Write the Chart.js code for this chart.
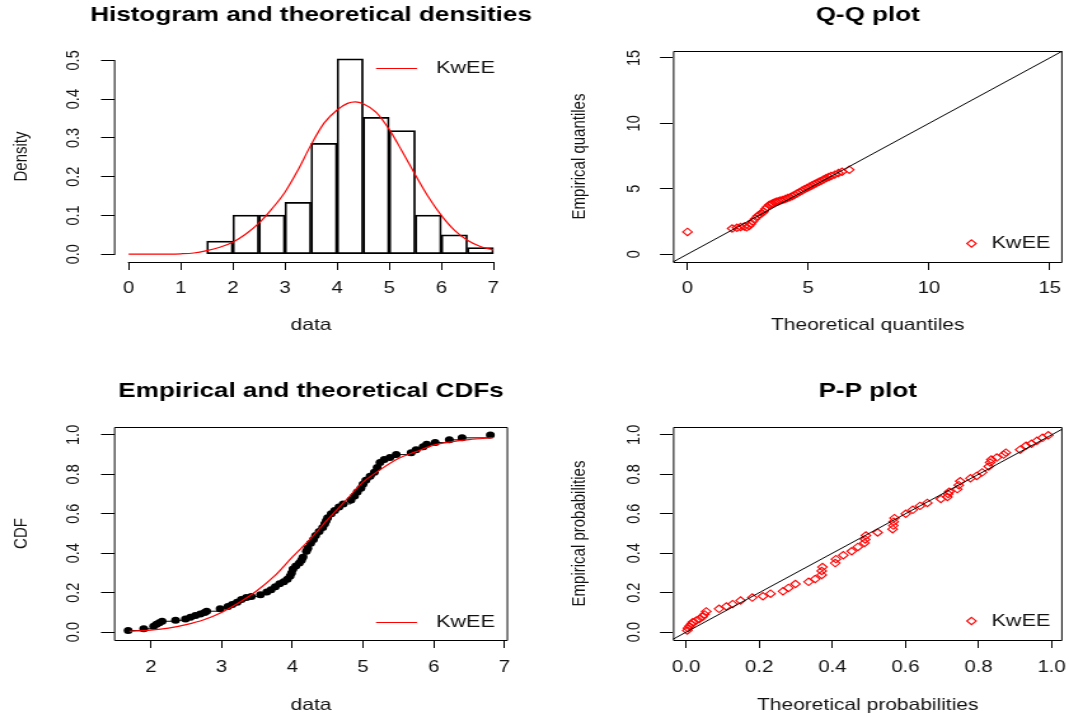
<!DOCTYPE html>
<html>
<head>
<meta charset="utf-8">
<title>KwEE goodness-of-fit plots</title>
<script src="https://cdn.jsdelivr.net/npm/chart.js@4.4.1/dist/chart.umd.min.js"></script>
<style>
  html, body { margin: 0; padding: 0; background: #fff; overflow: hidden; }
  #page { position: relative; width: 1069px; height: 717px; }
  /* the reference image is stretched sideways, so each canvas is drawn narrow and widened by CSS */
  #page canvas { position: absolute; }
</style>
</head>
<body>
<div id="page">
  <canvas id="histChart" width="420" height="358" style="left:0;top:0;width:534px;height:358px"></canvas>
  <canvas id="qqChart" width="421" height="358" style="left:534px;top:0;width:535px;height:358px"></canvas>
  <canvas id="cdfChart" width="420" height="359" style="left:0;top:358px;width:534px;height:359px"></canvas>
  <canvas id="ppChart" width="421" height="359" style="left:534px;top:358px;width:535px;height:359px"></canvas>
</div>
<script>
// values
const seriesName = 'KwEE';

const histBreaks = [1.5, 2, 2.5, 3, 3.5, 4, 4.5, 5, 5.5, 6, 6.5, 7];
const histDensity = [0.034, 0.101, 0.101, 0.134, 0.286, 0.504, 0.353, 0.319, 0.101, 0.050, 0.017];

const densityX = [0, 0.5, 1, 1.25, 1.5, 1.75, 2, 2.25, 2.5, 2.75, 3, 3.25, 3.5, 3.75, 4, 4.2, 4.35, 4.5, 4.75, 5, 5.25, 5.5, 5.75, 6, 6.25, 6.5, 6.75, 7];
const densityY = [0, 0, 0.001, 0.003, 0.009, 0.018, 0.031, 0.052, 0.080, 0.117, 0.160, 0.217, 0.282, 0.338, 0.372, 0.389, 0.393, 0.388, 0.366, 0.322, 0.265, 0.205, 0.148, 0.100, 0.062, 0.036, 0.020, 0.011];

const qqTheoretical = [0, 1.85, 2.05, 2.2, 2.35, 2.45, 2.55, 2.62, 2.7, 2.8, 2.9, 3.0, 3.08, 3.15, 3.22, 3.3, 3.38, 3.45, 3.52, 3.6, 3.68, 3.76, 3.85, 3.95, 4.05, 4.15, 4.25, 4.35, 4.45, 4.55, 4.65, 4.75, 4.85, 4.95, 5.05, 5.15, 5.25, 5.35, 5.45, 5.55, 5.65, 5.75, 5.85, 5.95, 6.1, 6.25, 6.4, 6.7];
const qqEmpirical = [1.70, 1.96, 2.02, 2.08, 2.12, 2.05, 2.15, 2.3, 2.5, 2.7, 2.9, 3.05, 3.15, 3.25, 3.45, 3.6, 3.75, 3.82, 3.88, 3.95, 4.0, 4.05, 4.1, 4.15, 4.22, 4.3, 4.36, 4.45, 4.55, 4.65, 4.76, 4.86, 4.97, 5.06, 5.15, 5.25, 5.35, 5.44, 5.53, 5.62, 5.72, 5.82, 5.9, 5.98, 6.08, 6.2, 6.3, 6.45];

const ecdfX = [1.68, 1.90, 2.04, 2.08, 2.12, 2.16, 2.35, 2.49, 2.56, 2.63, 2.70, 2.76, 2.79, 2.98, 3.09, 3.15, 3.22, 3.28, 3.35, 3.42, 3.55, 3.64, 3.70, 3.76, 3.82, 3.88, 3.93, 3.97, 3.99, 4.01, 4.05, 4.10, 4.13, 4.15, 4.20, 4.22, 4.26, 4.30, 4.33, 4.38, 4.43, 4.46, 4.48, 4.50, 4.55, 4.60, 4.66, 4.72, 4.83, 4.88, 4.92, 4.97, 5.00, 5.04, 5.10, 5.16, 5.20, 5.24, 5.30, 5.38, 5.47, 5.68, 5.75, 5.85, 5.90, 6.02, 6.22, 6.40, 6.80];
const ecdfP = [0.008, 0.017, 0.030, 0.040, 0.047, 0.055, 0.060, 0.067, 0.075, 0.084, 0.092, 0.100, 0.106, 0.118, 0.130, 0.140, 0.152, 0.165, 0.175, 0.180, 0.190, 0.203, 0.215, 0.230, 0.245, 0.255, 0.268, 0.285, 0.300, 0.320, 0.335, 0.350, 0.365, 0.380, 0.410, 0.425, 0.450, 0.470, 0.490, 0.510, 0.530, 0.550, 0.565, 0.580, 0.600, 0.617, 0.635, 0.650, 0.670, 0.690, 0.710, 0.730, 0.750, 0.770, 0.790, 0.810, 0.835, 0.860, 0.875, 0.885, 0.900, 0.910, 0.925, 0.940, 0.953, 0.961, 0.975, 0.985, 1.000];

const cdfCurveX = [1.7, 2, 2.25, 2.5, 2.75, 3, 3.25, 3.5, 3.75, 4, 4.25, 4.5, 4.75, 5, 5.25, 5.5, 5.75, 6, 6.25, 6.5, 6.84];
const cdfCurveY = [0.004, 0.010, 0.020, 0.038, 0.063, 0.100, 0.150, 0.210, 0.285, 0.380, 0.470, 0.570, 0.665, 0.760, 0.825, 0.880, 0.915, 0.948, 0.965, 0.976, 0.986];

const ppTheoretical = [0.003, 0.005, 0.009, 0.014, 0.018, 0.027, 0.036, 0.045, 0.05, 0.055, 0.09, 0.11, 0.127, 0.149, 0.181, 0.21, 0.231, 0.265, 0.28, 0.299, 0.335, 0.353, 0.371, 0.371, 0.373, 0.408, 0.41, 0.43, 0.453, 0.47, 0.488, 0.49, 0.492, 0.524, 0.565, 0.567, 0.568, 0.57, 0.601, 0.62, 0.64, 0.66, 0.697, 0.715, 0.717, 0.72, 0.742, 0.746, 0.75, 0.778, 0.795, 0.81, 0.828, 0.832, 0.835, 0.85, 0.869, 0.875, 0.914, 0.93, 0.945, 0.96, 0.975, 0.991];
const ppEmpirical = [0.008, 0.02, 0.03, 0.04, 0.05, 0.058, 0.067, 0.078, 0.09, 0.105, 0.118, 0.13, 0.142, 0.16, 0.175, 0.182, 0.195, 0.207, 0.224, 0.244, 0.255, 0.269, 0.29, 0.31, 0.33, 0.35, 0.37, 0.39, 0.41, 0.432, 0.452, 0.47, 0.49, 0.505, 0.522, 0.54, 0.56, 0.578, 0.6, 0.62, 0.64, 0.655, 0.675, 0.685, 0.70, 0.712, 0.725, 0.745, 0.765, 0.78, 0.792, 0.81, 0.84, 0.86, 0.875, 0.885, 0.90, 0.91, 0.925, 0.945, 0.955, 0.97, 0.985, 0.998];

// y = x reference line, clipped to the plot box
const identityLine = [-1, 16];

const histXTicks = [0, 1, 2, 3, 4, 5, 6, 7];
const histYTicks = [0, 0.1, 0.2, 0.3, 0.4, 0.5];
const qqTicks = [0, 5, 10, 15];
const cdfXTicks = [2, 3, 4, 5, 6, 7];
const probTicks = [0, 0.2, 0.4, 0.6, 0.8, 1];

const FONT = '"Liberation Sans", Arial, sans-serif';
const TICK_SIZE = 16;      // horizontal tick labels
const XTITLE_SIZE = 16.5;  // horizontal axis titles
const ROT_SIZE = 14.5;     // rotated y tick labels
const YTITLE_SIZE = 15;    // rotated y axis titles
const MAIN_SIZE = 20.5;    // bold panel titles

Chart.defaults.font.family = FONT;
Chart.defaults.color = '#111';

const pts = (xs, ys) => xs.map((x, i) => ({ x, y: ys[i] }));
const oneDecimal = v => Number(v).toFixed(1);
const plain = v => String(v);

const measureCtx = document.createElement('canvas').getContext('2d');
function textWidth(text, size) {
  measureCtx.font = `${size}px ${FONT}`;
  return measureCtx.measureText(text).width;
}

// box around the plot region, or R-style axis lines spanning the ticks only
const framePlugin = {
  id: 'frame',
  afterDatasetsDraw(chart, args, opts) {
    const { ctx, chartArea: a, scales } = chart;
    const snap = v => Math.round(v) + 0.5;
    ctx.save();
    ctx.strokeStyle = '#000';
    ctx.lineWidth = 1;
    ctx.beginPath();
    if (opts.mode === 'axes') {
      const { x, y } = scales;
      const xa = x.getPixelForValue(x.ticks[0].value);
      const xb = x.getPixelForValue(x.ticks[x.ticks.length - 1].value);
      const ya = y.getPixelForValue(y.ticks[0].value);
      const yb = y.getPixelForValue(y.ticks[y.ticks.length - 1].value);
      ctx.moveTo(xa - 0.5, snap(a.bottom));
      ctx.lineTo(xb + 0.5, snap(a.bottom));
      ctx.moveTo(a.left + 0.5, Math.round(ya) + 1);
      ctx.lineTo(a.left + 0.5, Math.round(yb));
    } else {
      ctx.rect(a.left + 0.5, snap(a.top), a.right - a.left - 1, Math.round(a.bottom) - Math.round(a.top));
    }
    ctx.stroke();
    ctx.restore();
  }
};

// single-entry legend drawn inside the plot region (bty = "n"); offsets are in screen pixels
const keyPlugin = {
  id: 'key',
  afterDatasetsDraw(chart, args, o) {
    const { ctx, chartArea: a } = chart;
    const s = o.stretch;
    const y = o.fromTop !== undefined ? a.top + o.fromTop : a.bottom - o.fromBottom;
    ctx.save();
    if (o.symbol === 'line') {
      ctx.strokeStyle = 'red';
      ctx.lineWidth = 1;
      ctx.beginPath();
      ctx.moveTo(a.right - o.lineFrom / s, Math.round(y) + 0.5);
      ctx.lineTo(a.right - o.lineTo / s, Math.round(y) + 0.5);
      ctx.stroke();
    } else {
      const cx = a.right - o.markAt / s;
      const r = 3.7;
      ctx.strokeStyle = 'red';
      ctx.lineWidth = 1.1;
      ctx.beginPath();
      ctx.moveTo(cx, y - r);
      ctx.lineTo(cx + r, y);
      ctx.lineTo(cx, y + r);
      ctx.lineTo(cx - r, y);
      ctx.closePath();
      ctx.stroke();
    }
    ctx.fillStyle = '#111';
    ctx.font = `17px ${FONT}`;
    ctx.textBaseline = 'middle';
    ctx.textAlign = 'left';
    ctx.fillText(o.text, a.right - o.textAt / s, y);
    ctx.restore();
  }
};

// keep long titles from being squeezed into the plot width
const wideTitlePlugin = {
  id: 'wideTitle',
  afterLayout(chart) {
    const t = chart.titleBlock;
    if (!t) return;
    const c = (t.left + t.right) / 2;
    const half = Math.max((t.right - t.left) / 2, 260);
    t.left = c - half;
    t.right = c + half;
  }
};

// g holds the reference positions in screen pixels, local to the panel
function panelOptions(canvas, g) {
  const s = parseFloat(canvas.style.width) / canvas.width;
  const H = canvas.height;
  const cssW = parseFloat(canvas.style.width);
  const yTickLen = 13 / s;
  const xTickLen = 8;

  const widest = Math.max(...g.yTicks.map(v => textWidth(g.yFormat(v), ROT_SIZE)));
  const yAxisW = g.left / s;
  const yTickPad = yAxisW - yTickLen - widest / 2 - g.yLabelX / s;
  const yTitlePad = g.yTitleX / s - YTITLE_SIZE * 1.2 / 2;

  const xAxisH = H - g.bottom;
  const xTickPad = g.xLabelY - g.bottom - xTickLen - TICK_SIZE * 1.2 / 2;
  const xTitlePad = H - g.xTitleY - XTITLE_SIZE * 1.2 / 2;

  const mainLine = MAIN_SIZE * 1.2;
  const titleTop = g.titleY - mainLine / 2;
  const titleBottom = g.top - titleTop - mainLine;

  const common = {
    type: 'linear',
    offset: false,
    border: { display: false },
    afterFit: sc => { sc.paddingLeft = sc.paddingRight = sc.paddingTop = sc.paddingBottom = 0; }
  };

  return {
    responsive: false,
    animation: false,
    events: [],
    layout: { padding: { left: 0, top: 0, right: (cssW - g.right) / s, bottom: 0 } },
    plugins: {
      legend: { display: false },
      tooltip: { enabled: false },
      title: {
        display: true,
        text: g.title,
        fullSize: false,
        color: '#000',
        font: { size: MAIN_SIZE, weight: 'bold' },
        padding: { top: titleTop, bottom: titleBottom }
      },
      frame: { mode: g.frame },
      key: { ...g.key, text: seriesName, stretch: s }
    },
    scales: {
      x: {
        ...common,
        position: 'bottom',
        min: g.xMin,
        max: g.xMax,
        grid: { drawOnChartArea: false, drawTicks: true, tickLength: xTickLen, color: '#000', lineWidth: 1, offset: false },
        ticks: { autoSkip: false, color: '#111', padding: xTickPad, font: { size: TICK_SIZE }, maxRotation: 0, minRotation: 0, callback: g.xFormat },
        title: { display: true, text: g.xTitle, color: '#111', font: { size: XTITLE_SIZE }, padding: { top: 0, bottom: xTitlePad } },
        afterBuildTicks: sc => { sc.ticks = g.xTicks.map(value => ({ value })); },
        afterFit: sc => { common.afterFit(sc); sc.height = xAxisH; }
      },
      y: {
        ...common,
        position: 'left',
        min: g.yMin,
        max: g.yMax,
        grid: { drawOnChartArea: false, drawTicks: true, tickLength: yTickLen, color: '#000', lineWidth: 1, offset: false },
        ticks: { autoSkip: false, color: '#111', padding: yTickPad, font: { size: ROT_SIZE }, minRotation: 90, maxRotation: 90, crossAlign: 'center', callback: g.yFormat },
        title: { display: true, text: g.yTitle, color: '#111', font: { size: YTITLE_SIZE }, padding: { top: yTitlePad, bottom: 0 } },
        afterBuildTicks: sc => { sc.ticks = g.yTicks.map(value => ({ value })); },
        afterFit: sc => { common.afterFit(sc); sc.width = yAxisW; }
      }
    }
  };
}

const leftCol = { left: 114, right: 508, yLabelX: 74, yTitleX: 22 };
const rightCol = { left: 139, right: 533, yLabelX: 100.6, yTitleX: 45.5 };
const topRow = { top: 51, bottom: 262, xLabelY: 289, xTitleY: 325.5, titleY: 15 };
const bottomRow = { top: 69, bottom: 282, xLabelY: 309.5, xTitleY: 347, titleY: 33.5 };
const plugins = [wideTitlePlugin, framePlugin, keyPlugin];

const diamondPoints = {
  showLine: false, pointStyle: 'rectRot', pointRadius: 3.7, pointBorderWidth: 1.1,
  pointBorderColor: 'red', pointBackgroundColor: 'rgba(0,0,0,0)'
};

// Histogram and theoretical densities
const histCanvas = document.getElementById('histChart');
const binCenters = histBreaks.slice(0, -1).map((b, i) => (b + histBreaks[i + 1]) / 2);
new Chart(histCanvas, {
  type: 'bar',
  data: {
    datasets: [
      { type: 'line', label: seriesName, data: pts(densityX, densityY), borderColor: 'red', borderWidth: 1.2,
        pointRadius: 0, cubicInterpolationMode: 'monotone', fill: false },
      { type: 'bar', label: 'data', data: pts(binCenters, histDensity), backgroundColor: 'rgba(0,0,0,0)',
        borderColor: '#000', borderWidth: 1.1, borderSkipped: false, barPercentage: 1, categoryPercentage: 1 }
    ]
  },
  plugins,
  options: panelOptions(histCanvas, {
    ...leftCol, ...topRow,
    title: 'Histogram and theoretical densities',
    frame: 'axes',
    key: { symbol: 'line', fromTop: 17, lineFrom: 132, lineTo: 91, textAt: 72 },
    xMin: -0.28, xMax: 7.28, xTicks: histXTicks, xFormat: plain, xTitle: 'data',
    yMin: -0.0202, yMax: 0.5242, yTicks: histYTicks, yFormat: oneDecimal, yTitle: 'Density'
  })
});

// Q-Q plot
const qqCanvas = document.getElementById('qqChart');
new Chart(qqCanvas, {
  type: 'line',
  data: {
    datasets: [
      { label: 'y = x', data: pts(identityLine, identityLine), borderColor: '#000', borderWidth: 1, pointRadius: 0 },
      { label: seriesName, data: pts(qqTheoretical, qqEmpirical), ...diamondPoints }
    ]
  },
  plugins,
  options: panelOptions(qqCanvas, {
    ...rightCol, ...topRow,
    title: 'Q-Q plot',
    frame: 'box',
    key: { symbol: 'diamond', fromBottom: 18.5, markAt: 91, textAt: 71 },
    xMin: -0.6, xMax: 15.53, xTicks: qqTicks, xFormat: plain, xTitle: 'Theoretical quantiles',
    yMin: -0.6, yMax: 15.53, yTicks: qqTicks, yFormat: plain, yTitle: 'Empirical quantiles'
  })
});

// Empirical and theoretical CDFs
const cdfCanvas = document.getElementById('cdfChart');
new Chart(cdfCanvas, {
  type: 'line',
  data: {
    datasets: [
      { label: seriesName, data: pts(cdfCurveX, cdfCurveY), borderColor: 'red', borderWidth: 1.2, pointRadius: 0,
        cubicInterpolationMode: 'monotone' },
      { label: 'ecdf', data: pts(ecdfX, ecdfP), borderColor: '#000', borderWidth: 1, stepped: 'before',
        pointStyle: 'circle', pointRadius: 3.5, pointBorderWidth: 0, pointBackgroundColor: '#000' }
    ]
  },
  plugins,
  options: panelOptions(cdfCanvas, {
    ...leftCol, ...bottomRow,
    title: 'Empirical and theoretical CDFs',
    frame: 'box',
    key: { symbol: 'line', fromBottom: 18, lineFrom: 132, lineTo: 91, textAt: 72 },
    xMin: 1.48, xMax: 7.05, xTicks: cdfXTicks, xFormat: plain, xTitle: 'data',
    yMin: -0.04, yMax: 1.04, yTicks: probTicks, yFormat: oneDecimal, yTitle: 'CDF'
  })
});

// P-P plot
const ppCanvas = document.getElementById('ppChart');
new Chart(ppCanvas, {
  type: 'line',
  data: {
    datasets: [
      { label: 'y = x', data: pts(identityLine, identityLine), borderColor: '#000', borderWidth: 1, pointRadius: 0 },
      { label: seriesName, data: pts(ppTheoretical, ppEmpirical), ...diamondPoints }
    ]
  },
  plugins,
  options: panelOptions(ppCanvas, {
    ...rightCol, ...bottomRow,
    title: 'P-P plot',
    frame: 'box',
    key: { symbol: 'diamond', fromBottom: 19, markAt: 91, textAt: 71 },
    xMin: -0.036, xMax: 1.03, xTicks: probTicks, xFormat: oneDecimal, xTitle: 'Theoretical probabilities',
    yMin: -0.04, yMax: 1.04, yTicks: probTicks, yFormat: oneDecimal, yTitle: 'Empirical probabilities'
  })
});
</script>
</body>
</html>
